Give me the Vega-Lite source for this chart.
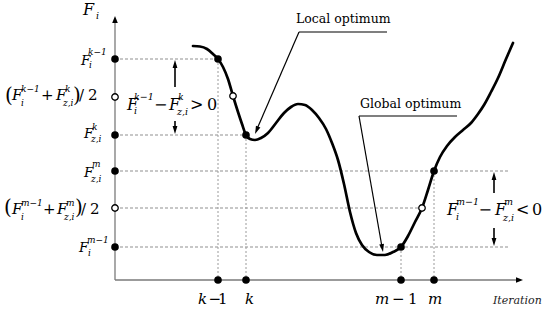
{
  "$schema": "https://vega.github.io/schema/vega-lite/v6.json",
  "width": 550,
  "height": 319,
  "padding": 0,
  "autosize": {"type": "none"},
  "background": "white",
  "config": {"view": {"stroke": null}},
  "datasets": {
    "curve": [
      {"x":193,"y":46},{"x":200,"y":46.5},{"x":207,"y":49},{"x":213,"y":54},{"x":218,"y":59},{"x":223,"y":67},{"x":228,"y":79},{"x":233,"y":96},{"x":238,"y":112},{"x":242,"y":124},{"x":246,"y":135},{"x":250,"y":139},{"x":255,"y":140},{"x":261,"y":138},{"x":268,"y":133},{"x":276,"y":123},{"x":284,"y":113},{"x":291,"y":107},{"x":298,"y":104},{"x":305,"y":105},{"x":312,"y":110},{"x":319,"y":118},{"x":326,"y":129},{"x":332,"y":143},{"x":338,"y":160},{"x":344,"y":184},{"x":350,"y":212},{"x":356,"y":233},{"x":362,"y":245},{"x":369,"y":252},{"x":377,"y":255},{"x":385,"y":255},{"x":393,"y":252},{"x":401,"y":247},{"x":408,"y":236},{"x":415,"y":222},{"x":422,"y":208},{"x":428,"y":190},{"x":434,"y":171},{"x":440,"y":157},{"x":447,"y":146},{"x":455,"y":137},{"x":463,"y":130},{"x":471,"y":123},{"x":478,"y":114},{"x":484,"y":105},{"x":491,"y":92},{"x":498,"y":78},{"x":506,"y":59},{"x":513,"y":43}
    ],
    "rules": [
      {"k":"axis","x":115,"y":22,"x2":115,"y2":280},
      {"k":"axis","x":115,"y":280,"x2":518,"y2":280},
      {"k":"dash","x":115,"y":59,"x2":218,"y2":59},
      {"k":"dash","x":115,"y":135,"x2":246,"y2":135},
      {"k":"dash","x":115,"y":171,"x2":508,"y2":171},
      {"k":"dash","x":115,"y":208,"x2":422,"y2":208},
      {"k":"dash","x":115,"y":247,"x2":508,"y2":247},
      {"k":"dot","x":218,"y":59,"x2":218,"y2":280},
      {"k":"dot","x":246,"y":135,"x2":246,"y2":280},
      {"k":"dot","x":401,"y":247,"x2":401,"y2":280},
      {"k":"dot","x":434,"y":171,"x2":434,"y2":280},
      {"k":"lead","x":299,"y":32,"x2":387,"y2":32},
      {"k":"lead","x":299,"y":32,"x2":257,"y2":129},
      {"k":"lead","x":359,"y":116,"x2":457,"y2":116},
      {"k":"lead","x":359,"y":116,"x2":382,"y2":247},
      {"k":"shaft","x":175,"y":87,"x2":175,"y2":64},
      {"k":"shaft","x":175,"y":121,"x2":175,"y2":130},
      {"k":"shaft","x":494,"y":193,"x2":494,"y2":176},
      {"k":"shaft","x":494,"y":228,"x2":494,"y2":242}
    ],
    "heads": [
      {"k":"lead","x":256.6,"y":130.3,"a":203.3},
      {"k":"lead","x":382.3,"y":248.1,"a":170},
      {"k":"lead","x":175,"y":64,"a":0},
      {"k":"lead","x":175,"y":130,"a":180},
      {"k":"lead","x":494,"y":176,"a":0},
      {"k":"lead","x":494,"y":242,"a":180},
      {"k":"axis","x":115,"y":19.5,"a":0},
      {"k":"axis","x":519.5,"y":280,"a":90}
    ],
    "pts": [
      {"o":0,"x":115,"y":59},{"o":0,"x":115,"y":135},{"o":0,"x":115,"y":171},{"o":0,"x":115,"y":247},
      {"o":0,"x":218,"y":280},{"o":0,"x":246,"y":280},{"o":0,"x":401,"y":280},{"o":0,"x":434,"y":280},
      {"o":0,"x":218,"y":59},{"o":0,"x":246,"y":135},{"o":0,"x":401,"y":247},{"o":0,"x":434,"y":171},
      {"o":1,"x":115,"y":97},{"o":1,"x":115,"y":208},{"o":1,"x":233,"y":96},{"o":1,"x":422,"y":208}
    ],
    "txt": [
      {"g":"eI","t":"F","x":83,"y":15},{"g":"sL","t":"i","x":96,"y":19},

      {"g":"fI","t":"F","x":81,"y":65},{"g":"s","t":"k−1","x":88,"y":55},{"g":"s","t":"i","x":89,"y":68},

      {"g":"pU","t":"(","x":5,"y":102},{"g":"cI","t":"F","x":12,"y":100},{"g":"s","t":"k−1","x":21,"y":92},{"g":"s","t":"i","x":21,"y":106},
      {"g":"cU","t":"+","x":41,"y":100},{"g":"cI","t":"F","x":56,"y":100},{"g":"s","t":"k","x":65,"y":92},{"g":"s","t":"z,i","x":63,"y":106},
      {"g":"pU","t":")","x":73,"y":102},{"g":"cU","t":"/","x":79,"y":100},{"g":"cU","t":"2","x":88,"y":100},

      {"g":"fI","t":"F","x":84,"y":138},{"g":"s","t":"k","x":92,"y":130},{"g":"s","t":"z,i","x":91,"y":142},

      {"g":"fI","t":"F","x":84,"y":177},{"g":"s","t":"m","x":92,"y":167},{"g":"s","t":"z,i","x":91,"y":182},

      {"g":"pU","t":"(","x":4,"y":214},{"g":"cI","t":"F","x":12,"y":214},{"g":"s","t":"m−1","x":21,"y":206},{"g":"s","t":"i","x":21,"y":220},
      {"g":"cU","t":"+","x":43,"y":214},{"g":"cI","t":"F","x":57,"y":214},{"g":"s","t":"m","x":66,"y":206},{"g":"s","t":"z,i","x":64,"y":220},
      {"g":"pU","t":")","x":75,"y":214},{"g":"cU","t":"/","x":81,"y":214},{"g":"cU","t":"2","x":90,"y":214},

      {"g":"fI","t":"F","x":79,"y":252},{"g":"s","t":"m−1","x":87,"y":243},{"g":"s","t":"i","x":88,"y":256},

      {"g":"eI","t":"F","x":127,"y":110},{"g":"sL","t":"k−1","x":134,"y":100},{"g":"sL","t":"i","x":134,"y":114},
      {"g":"eU","t":"−","x":154,"y":110},{"g":"eI","t":"F","x":169,"y":110},{"g":"sL","t":"k","x":178,"y":100},{"g":"sL","t":"z,i","x":177,"y":115},
      {"g":"eU","t":">","x":190,"y":110},{"g":"eU","t":"0","x":207,"y":110},

      {"g":"eI","t":"F","x":447,"y":215},{"g":"sL","t":"m−1","x":456,"y":205},{"g":"sL","t":"i","x":456,"y":220},
      {"g":"eU","t":"−","x":478.5,"y":215},{"g":"eI","t":"F","x":495,"y":215},{"g":"sL","t":"m","x":504,"y":205},{"g":"sL","t":"z,i","x":503,"y":221},
      {"g":"eU","t":"<","x":516,"y":215},{"g":"eU","t":"0","x":532,"y":215},

      {"g":"tI","t":"k","x":198,"y":304},{"g":"tU","t":"−","x":208.5,"y":304},{"g":"tU","t":"1","x":218,"y":304},{"g":"tI","t":"k","x":245,"y":304},
      {"g":"tI","t":"m","x":375,"y":304},{"g":"tU","t":"−","x":392,"y":304},{"g":"tU","t":"1","x":408,"y":304},{"g":"tI","t":"m","x":428,"y":304},
      {"g":"it","t":"Iteration","x":493,"y":304},
      {"g":"n","t":"Local optimum","x":296,"y":23},
      {"g":"n","t":"Global optimum","x":360,"y":108}
    ]
  },
  "layer": [
    {
      "data": {"name": "rules"},
      "transform": [{"filter": "datum.k == 'dash'"}],
      "mark": {"type": "rule", "color": "#8f8f8f", "strokeWidth": 1, "strokeDash": [3, 2]},
      "encoding": {
        "x": {"field": "x", "type": "quantitative", "scale": {"domain": [0, 550], "nice": false, "zero": false}, "axis": null},
        "y": {"field": "y", "type": "quantitative", "scale": {"domain": [0, 319], "nice": false, "zero": false, "reverse": true}, "axis": null},
        "x2": {"field": "x2"}, "y2": {"field": "y2"}
      }
    },
    {
      "data": {"name": "rules"},
      "transform": [{"filter": "datum.k == 'dot'"}],
      "mark": {"type": "rule", "color": "#9a9a9a", "strokeWidth": 1, "strokeDash": [2, 2]},
      "encoding": {
        "x": {"field": "x", "type": "quantitative", "axis": null},
        "y": {"field": "y", "type": "quantitative", "axis": null},
        "x2": {"field": "x2"}, "y2": {"field": "y2"}
      }
    },
    {
      "data": {"name": "rules"},
      "transform": [{"filter": "datum.k == 'axis'"}],
      "mark": {"type": "rule", "color": "#7a7a7a", "strokeWidth": 1.3},
      "encoding": {
        "x": {"field": "x", "type": "quantitative", "axis": null},
        "y": {"field": "y", "type": "quantitative", "axis": null},
        "x2": {"field": "x2"}, "y2": {"field": "y2"}
      }
    },
    {
      "data": {"name": "curve"},
      "mark": {"type": "line", "interpolate": "monotone", "color": "black", "strokeWidth": 2.7, "strokeCap": "round"},
      "encoding": {
        "x": {"field": "x", "type": "quantitative", "axis": null},
        "y": {"field": "y", "type": "quantitative", "axis": null}
      }
    },
    {
      "data": {"name": "rules"},
      "transform": [{"filter": "datum.k == 'lead'"}],
      "mark": {"type": "rule", "color": "black", "strokeWidth": 1.2},
      "encoding": {
        "x": {"field": "x", "type": "quantitative", "axis": null},
        "y": {"field": "y", "type": "quantitative", "axis": null},
        "x2": {"field": "x2"}, "y2": {"field": "y2"}
      }
    },
    {
      "data": {"name": "rules"},
      "transform": [{"filter": "datum.k == 'shaft'"}],
      "mark": {"type": "rule", "color": "black", "strokeWidth": 1.6},
      "encoding": {
        "x": {"field": "x", "type": "quantitative", "axis": null},
        "y": {"field": "y", "type": "quantitative", "axis": null},
        "x2": {"field": "x2"}, "y2": {"field": "y2"}
      }
    },
    {
      "data": {"name": "heads"},
      "transform": [{"filter": "datum.k == 'lead'"}],
      "mark": {"type": "point", "shape": "M0,-1L0.6,1L-0.6,1Z", "filled": true, "color": "black", "opacity": 1, "size": 64},
      "encoding": {
        "x": {"field": "x", "type": "quantitative", "axis": null},
        "y": {"field": "y", "type": "quantitative", "axis": null},
        "angle": {"field": "a", "type": "quantitative", "scale": null}
      }
    },
    {
      "data": {"name": "heads"},
      "transform": [{"filter": "datum.k == 'axis'"}],
      "mark": {"type": "point", "shape": "M0,-1L0.8,1L-0.8,1Z", "filled": true, "color": "black", "opacity": 1, "size": 49},
      "encoding": {
        "x": {"field": "x", "type": "quantitative", "axis": null},
        "y": {"field": "y", "type": "quantitative", "axis": null},
        "angle": {"field": "a", "type": "quantitative", "scale": null}
      }
    },
    {
      "data": {"name": "pts"},
      "transform": [{"filter": "datum.o == 0"}],
      "mark": {"type": "point", "shape": "circle", "filled": true, "color": "black", "opacity": 1, "size": 58},
      "encoding": {
        "x": {"field": "x", "type": "quantitative", "axis": null},
        "y": {"field": "y", "type": "quantitative", "axis": null}
      }
    },
    {
      "data": {"name": "pts"},
      "transform": [{"filter": "datum.o == 1"}],
      "mark": {"type": "point", "shape": "circle", "filled": true, "fill": "white", "stroke": "black", "strokeWidth": 1.3, "opacity": 1, "size": 42},
      "encoding": {
        "x": {"field": "x", "type": "quantitative", "axis": null},
        "y": {"field": "y", "type": "quantitative", "axis": null}
      }
    },
    {
      "data": {"name": "txt"}, "transform": [{"filter": "datum.g == 'eI'"}],
      "mark": {"type": "text", "font": "DejaVu Serif", "fontStyle": "italic", "fontSize": 16, "align": "left", "baseline": "alphabetic", "color": "black"},
      "encoding": {"x": {"field": "x", "type": "quantitative", "axis": null}, "y": {"field": "y", "type": "quantitative", "axis": null}, "text": {"field": "t"}}
    },
    {
      "data": {"name": "txt"}, "transform": [{"filter": "datum.g == 'eU'"}],
      "mark": {"type": "text", "font": "DejaVu Serif", "fontSize": 16, "align": "left", "baseline": "alphabetic", "color": "black"},
      "encoding": {"x": {"field": "x", "type": "quantitative", "axis": null}, "y": {"field": "y", "type": "quantitative", "axis": null}, "text": {"field": "t"}}
    },
    {
      "data": {"name": "txt"}, "transform": [{"filter": "datum.g == 'sL'"}],
      "mark": {"type": "text", "font": "DejaVu Serif", "fontStyle": "italic", "fontSize": 9.5, "align": "left", "baseline": "alphabetic", "color": "black"},
      "encoding": {"x": {"field": "x", "type": "quantitative", "axis": null}, "y": {"field": "y", "type": "quantitative", "axis": null}, "text": {"field": "t"}}
    },
    {
      "data": {"name": "txt"}, "transform": [{"filter": "datum.g == 's'"}],
      "mark": {"type": "text", "font": "DejaVu Serif", "fontStyle": "italic", "fontSize": 9, "align": "left", "baseline": "alphabetic", "color": "black"},
      "encoding": {"x": {"field": "x", "type": "quantitative", "axis": null}, "y": {"field": "y", "type": "quantitative", "axis": null}, "text": {"field": "t"}}
    },
    {
      "data": {"name": "txt"}, "transform": [{"filter": "datum.g == 'fI'"}],
      "mark": {"type": "text", "font": "DejaVu Serif", "fontStyle": "italic", "fontSize": 13.5, "align": "left", "baseline": "alphabetic", "color": "black"},
      "encoding": {"x": {"field": "x", "type": "quantitative", "axis": null}, "y": {"field": "y", "type": "quantitative", "axis": null}, "text": {"field": "t"}}
    },
    {
      "data": {"name": "txt"}, "transform": [{"filter": "datum.g == 'cI'"}],
      "mark": {"type": "text", "font": "DejaVu Serif", "fontStyle": "italic", "fontSize": 15, "align": "left", "baseline": "alphabetic", "color": "black"},
      "encoding": {"x": {"field": "x", "type": "quantitative", "axis": null}, "y": {"field": "y", "type": "quantitative", "axis": null}, "text": {"field": "t"}}
    },
    {
      "data": {"name": "txt"}, "transform": [{"filter": "datum.g == 'cU'"}],
      "mark": {"type": "text", "font": "DejaVu Serif", "fontSize": 15, "align": "left", "baseline": "alphabetic", "color": "black"},
      "encoding": {"x": {"field": "x", "type": "quantitative", "axis": null}, "y": {"field": "y", "type": "quantitative", "axis": null}, "text": {"field": "t"}}
    },
    {
      "data": {"name": "txt"}, "transform": [{"filter": "datum.g == 'pU'"}],
      "mark": {"type": "text", "font": "DejaVu Serif", "fontSize": 20, "align": "left", "baseline": "alphabetic", "color": "black"},
      "encoding": {"x": {"field": "x", "type": "quantitative", "axis": null}, "y": {"field": "y", "type": "quantitative", "axis": null}, "text": {"field": "t"}}
    },
    {
      "data": {"name": "txt"}, "transform": [{"filter": "datum.g == 'tI'"}],
      "mark": {"type": "text", "font": "DejaVu Serif", "fontStyle": "italic", "fontSize": 15, "align": "left", "baseline": "alphabetic", "color": "black"},
      "encoding": {"x": {"field": "x", "type": "quantitative", "axis": null}, "y": {"field": "y", "type": "quantitative", "axis": null}, "text": {"field": "t"}}
    },
    {
      "data": {"name": "txt"}, "transform": [{"filter": "datum.g == 'tU'"}],
      "mark": {"type": "text", "font": "DejaVu Serif", "fontSize": 15, "align": "left", "baseline": "alphabetic", "color": "black"},
      "encoding": {"x": {"field": "x", "type": "quantitative", "axis": null}, "y": {"field": "y", "type": "quantitative", "axis": null}, "text": {"field": "t"}}
    },
    {
      "data": {"name": "txt"}, "transform": [{"filter": "datum.g == 'it'"}],
      "mark": {"type": "text", "font": "DejaVu Serif", "fontStyle": "italic", "fontSize": 11, "align": "left", "baseline": "alphabetic", "color": "#222"},
      "encoding": {"x": {"field": "x", "type": "quantitative", "axis": null}, "y": {"field": "y", "type": "quantitative", "axis": null}, "text": {"field": "t"}}
    },
    {
      "data": {"name": "txt"}, "transform": [{"filter": "datum.g == 'n'"}],
      "mark": {"type": "text", "font": "DejaVu Serif", "fontSize": 12.5, "align": "left", "baseline": "alphabetic", "color": "black"},
      "encoding": {"x": {"field": "x", "type": "quantitative", "axis": null}, "y": {"field": "y", "type": "quantitative", "axis": null}, "text": {"field": "t"}}
    }
  ]
}
